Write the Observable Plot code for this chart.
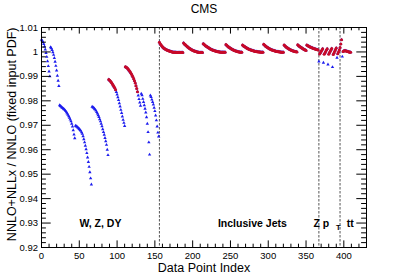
<!DOCTYPE html>
<html><head><meta charset="utf-8">
<script src="https://cdn.jsdelivr.net/npm/d3@7"></script>
<script src="https://cdn.jsdelivr.net/npm/@observablehq/plot@0.6"></script>
<style>
body{margin:0;background:#fff}
svg{display:block}
</style>
</head><body><div id="chart"></div>
<script>
// ---- data (ratio NNLO+NLLx / NNLO per data point index) ----
const wzdyStart = 0;
const wzdyRatio = [
  1.0050, 1.0046, 1.0040, 1.0032, 1.0022, 1.0010, 0.9996, 0.9980, 0.9962, 0.9942, 0.9920, 0.9900,
  1.0019, 1.0015, 1.0008, 0.9999, 0.9988, 0.9975, 0.9960, 0.9943, 0.9924, 0.9903, 0.9882, 0.9861,
  0.9782, 0.9779, 0.9776, 0.9773, 0.9771, 0.9768, 0.9765, 0.9762, 0.9758, 0.9753, 0.9748, 0.9743, 0.9737, 0.9731, 0.9724, 0.9716, 0.9706, 0.9695, 0.9680, 0.9662, 0.9647,
  0.9698, 0.9696, 0.9694, 0.9691, 0.9688, 0.9685, 0.9681, 0.9677, 0.9671, 0.9665, 0.9655, 0.9643, 0.9630, 0.9616, 0.9602, 0.9586, 0.9568, 0.9550, 0.9530, 0.9508, 0.9483, 0.9458,
  0.9776, 0.9774, 0.9772, 0.9768, 0.9764, 0.9760, 0.9754, 0.9748, 0.9741, 0.9734, 0.9725, 0.9716, 0.9706, 0.9696, 0.9684, 0.9672, 0.9661, 0.9648, 0.9635, 0.9620, 0.9600, 0.9578,
  0.9887, 0.9884, 0.9881, 0.9877, 0.9873, 0.9868, 0.9863, 0.9858, 0.9852, 0.9845,
  0.9836, 0.9826, 0.9815, 0.9803, 0.9790, 0.9777, 0.9763, 0.9750, 0.9736, 0.9722, 0.9710, 0.9697,
  0.9939, 0.9937, 0.9935, 0.9932, 0.9928, 0.9924, 0.9920, 0.9915, 0.9910, 0.9904, 0.9897, 0.9890, 0.9882, 0.9873, 0.9862, 0.9850, 0.9837,
  0.9822, 0.9807, 0.9793, 0.9780,
  0.9829, 0.9823, 0.9808, 0.9795, 0.9782, 0.9768, 0.9752, 0.9733, 0.9706, 0.9672, 0.9630, 0.9580,
  0.9822, 0.9816, 0.9805, 0.9795, 0.9785, 0.9772, 0.9758, 0.9740, 0.9720, 0.9695, 0.9670, 0.9654
];
const wzdyInFit = [[89, 98], [111, 127]];

const jetsStart = 156;
const jetsRatio = [
  1.0040, 1.0034, 1.0029, 1.0025, 1.0021, 1.0018, 1.0015, 1.0013, 1.0011, 1.0009, 1.0008, 1.0006, 1.0005, 1.0004, 1.0003, 1.0002, 1.0001, 1.0000, 0.9999, 0.9999, 0.9999, 0.9999, 0.9998, 0.9998, 0.9998, 0.9998, 0.9998, 0.9998, 0.9998, 0.9998, 0.9998, 0.9998,
  1.0037, 1.0033, 1.0030, 1.0027, 1.0024, 1.0021, 1.0019, 1.0016, 1.0014, 1.0012, 1.0010, 1.0008, 1.0007, 1.0005, 1.0004, 1.0003, 1.0002, 1.0001, 1.0000, 0.9999, 0.9999, 0.9998, 0.9998, 0.9998, 0.9998, 0.9998,
  1.0034, 1.0031, 1.0028, 1.0025, 1.0023, 1.0021, 1.0019, 1.0017, 1.0015, 1.0013, 1.0011, 1.0010, 1.0008, 1.0007, 1.0006, 1.0005, 1.0004, 1.0003, 1.0002, 1.0001, 1.0001, 1.0000, 1.0000, 0.9999, 0.9999, 0.9999, 0.9999, 0.9999, 0.9999, 0.9999,
  1.0030, 1.0027, 1.0024, 1.0021, 1.0019, 1.0017, 1.0015, 1.0013, 1.0011, 1.0009, 1.0008, 1.0006, 1.0005, 1.0004, 1.0003, 1.0002, 1.0001, 1.0000, 1.0000, 0.9999, 0.9999, 0.9999,
  1.0028, 1.0025, 1.0023, 1.0021, 1.0019, 1.0017, 1.0015, 1.0013, 1.0012, 1.0010, 1.0009, 1.0008, 1.0007, 1.0006, 1.0005, 1.0004, 1.0003, 1.0002, 1.0002, 1.0001, 1.0001, 1.0000, 1.0000, 1.0000, 0.9999, 0.9999, 0.9999, 0.9999,
  1.0031, 1.0028, 1.0025, 1.0022, 1.0020, 1.0018, 1.0016, 1.0014, 1.0012, 1.0011, 1.0009, 1.0008, 1.0007, 1.0006, 1.0005, 1.0004, 1.0003, 1.0002, 1.0002, 1.0001, 1.0001, 1.0000, 1.0000, 0.9999, 0.9999, 0.9999, 0.9999,
  1.0028, 1.0025, 1.0022, 1.0019, 1.0017, 1.0015, 1.0013, 1.0011, 1.0009, 1.0008, 1.0006, 1.0005, 1.0004, 1.0003, 1.0002, 1.0001, 1.0001, 1.0000,
  1.0029, 1.0026, 1.0023, 1.0021, 1.0019, 1.0017, 1.0015, 1.0013, 1.0011, 1.0009, 1.0008, 1.0006,
  1.0028, 1.0026, 1.0024, 1.0022, 1.0021, 1.0019, 1.0018, 1.0017, 1.0015, 1.0014, 1.0013, 1.0012, 1.0011, 1.0010, 1.0009, 1.0008
];

const zptStart = 367;
const zptRatio = [
  0.9961, 0.9992, 0.9997, 1.0003, 1.0008, 1.0013,
  0.9956, 0.9991, 0.9996, 1.0002, 1.0008, 1.0013,
  0.9949, 0.9991, 0.9997, 1.0003, 1.0009, 1.0014,
  0.9938, 0.9990, 0.9996, 1.0003, 1.0010, 1.0016,
  0.9976, 0.9993, 1.0000, 1.0008, 1.0018, 1.0032, 1.0050
];
const zptOutOfFit = [367, 373, 379, 385, 391];

const ttbarStart = 398;
const ttbarRatio = [0.9981, 1.0002, 1.0004, 1.0005, 1.0005, 1.0004, 1.0003, 1.0002, 1.0001, 1.0000, 0.9999, 0.9999];
const ttbarOutOfFit = [398];

const boundaries = [156, 367, 395];
const xMajor = [0, 50, 100, 150, 200, 250, 300, 350, 400];
const yMajor = [0.92, 0.93, 0.94, 0.95, 0.96, 0.97, 0.98, 0.99, 1.00, 1.01];
const xMinor = d3.range(10, 431, 10).filter(v => v % 50 !== 0);
const yMinor = d3.range(922, 1010, 2).filter(v => v % 10 !== 0).map(v => v / 1000);

const processLabels = [
  {text: "W, Z, DY", x: 78, y: 0.9299, anchor: "middle"},
  {text: "Inclusive Jets", x: 279, y: 0.9299, anchor: "middle"},
  {text: "Z p", x: 370.3, y: 0.9299, anchor: "start"},
  {text: "tt", x: 408.5, y: 0.9299, anchor: "start"}
];

// ---- build point table ----
const points = [];
wzdyRatio.forEach((r, i) => {
  const index = wzdyStart + i;
  points.push({index, ratio: r, inFit: wzdyInFit.some(([a, b]) => index >= a && index <= b)});
});
jetsRatio.forEach((r, i) => points.push({index: jetsStart + i, ratio: r, inFit: true}));
zptRatio.forEach((r, i) => { const index = zptStart + i; points.push({index, ratio: r, inFit: !zptOutOfFit.includes(index)}); });
ttbarRatio.forEach((r, i) => { const index = ttbarStart + i; points.push({index, ratio: r, inFit: !ttbarOutOfFit.includes(index)}); });

const W = 407, H = 276, mt = 27, mr = 41, mb = 29, ml = 41;
const plotW = W - ml - mr, plotH = H - mt - mb;
const blue = "#1c1cee", red = "#c80a28";
const font = "'Liberation Sans', Arial, Helvetica, sans-serif";

const chart = Plot.plot({
  width: W, height: H,
  marginTop: mt, marginRight: mr, marginBottom: mb, marginLeft: ml,
  style: {fontFamily: font, fontSize: "9.5px", color: "black", background: "white"},
  x: {domain: [0, 430]},
  y: {domain: [0.92, 1.01]},
  marks: [
    Plot.ruleX(boundaries, {stroke: "#555", strokeWidth: 1, strokeDasharray: "2.5,1.5"}),
    Plot.dot(points, {x: "index", y: "ratio", symbol: "triangle", r: 1.25, fill: blue, stroke: "none"}),
    Plot.dot(points.filter(d => d.inFit), {x: "index", y: "ratio", r: 1.5, fill: red, stroke: "none"}),
    // ticks (inward, on all four sides)
    Plot.ruleX(xMajor, {insetTop: plotH - 6.6, stroke: "black"}),
    Plot.ruleX(xMajor, {insetBottom: plotH - 6.6, stroke: "black"}),
    Plot.ruleX(xMinor, {insetTop: plotH - 3.3, stroke: "black"}),
    Plot.ruleX(xMinor, {insetBottom: plotH - 3.3, stroke: "black"}),
    Plot.ruleY(yMajor, {insetRight: plotW - 9.7, stroke: "black"}),
    Plot.ruleY(yMajor, {insetLeft: plotW - 9.7, stroke: "black"}),
    Plot.ruleY(yMinor, {insetRight: plotW - 4.9, stroke: "black"}),
    Plot.ruleY(yMinor, {insetLeft: plotW - 4.9, stroke: "black"}),
    Plot.axisX({ticks: xMajor, tickSize: 0, tickPadding: 5, label: null, fontSize: 9.5, tickFormat: d => String(d)}),
    Plot.axisY({ticks: yMajor, tickSize: 0, tickPadding: 3.5, label: null, fontSize: 9.5, tickFormat: d => String(+d.toFixed(2))}),
    Plot.frame({stroke: "black", strokeWidth: 1}),
    Plot.text(processLabels, {x: "x", y: "y", text: "text", textAnchor: d => d.anchor, lineAnchor: "middle", fontWeight: "bold", fontSize: 10.5, fill: "black"}),
    Plot.text(["T"], {x: 392.7, y: 0.92796, text: d => d, lineAnchor: "middle", fontWeight: "bold", fontSize: 7.5, fill: "black"}),
    Plot.text(["CMS"], {frameAnchor: "top", dy: -18, text: d => d, lineAnchor: "middle", fontSize: 12, fill: "black"}),
    Plot.text(["Data Point Index"], {frameAnchor: "bottom", dy: 20, text: d => d, lineAnchor: "middle", fontSize: 12.5, fill: "black"}),
    Plot.text(["NNLO+NLLx / NNLO (fixed input PDF)"], {frameAnchor: "top-left", dx: -30, text: d => d, rotate: -90, textAnchor: "end", lineAnchor: "middle", fontSize: 12.5, fill: "black"})
  ]
});
document.getElementById("chart").appendChild(chart);
</script>
</body></html>
